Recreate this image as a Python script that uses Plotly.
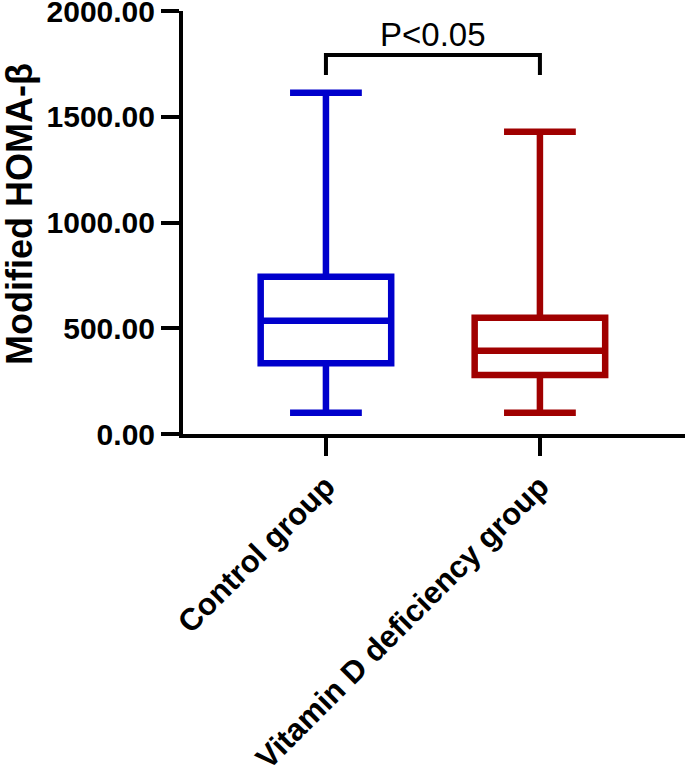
import plotly.graph_objects as go

# box summary values
groups = ["Control group", "Vitamin D deficiency group"]
q1 = [334, 279]
median = [536, 394]
q3 = [744, 550]
lower = [101, 101]
upper = [1614, 1429]
colors = ["#0000CC", "#A00000"]

y_ticks = [0, 500, 1000, 1500, 2000]
y_title = "Modified HOMA-β"

# significance bracket between the two groups
bracket_x = [groups[0], groups[0], groups[1], groups[1]]
bracket_y = [1697, 1792, 1792, 1697]
p_label = "P<0.05"
p_label_y = 1890

fig = go.Figure()

for i, g in enumerate(groups):
    fig.add_trace(go.Box(
        x=[g],
        q1=[q1[i]], median=[median[i]], q3=[q3[i]],
        lowerfence=[lower[i]], upperfence=[upper[i]],
        line=dict(color=colors[i], width=6.5),
        fillcolor="rgba(0,0,0,0)",
        width=0.61,
        whiskerwidth=0.55,
        hoverinfo="skip",
    ))

fig.add_trace(go.Scatter(
    x=bracket_x, y=bracket_y,
    mode="lines",
    line=dict(color="black", width=4),
    hoverinfo="skip",
))

fig.add_annotation(
    x=0.5, y=p_label_y, xref="x", yref="y",
    text=p_label, showarrow=False,
    font=dict(family="Liberation Sans, Arial", size=33, color="black"),
)

# y axis title as a rotated annotation so it can sit close to the edge
fig.add_annotation(
    x=-0.327, y=0.52, xref="paper", yref="paper",
    xanchor="center", yanchor="middle",
    text=y_title, textangle=-90, showarrow=False,
    font=dict(family="Liberation Sans, Arial", size=36, color="black", weight="bold"),
)

fig.update_layout(
    width=685, height=770,
    showlegend=False,
    plot_bgcolor="white",
    paper_bgcolor="white",
    margin=dict(l=183, r=0, t=11, b=336),
    font=dict(family="Liberation Sans, Arial", color="black"),
)

fig.update_xaxes(
    type="category",
    range=[-0.668, 1.678],
    automargin=False,
    showline=True, linecolor="black", linewidth=4,
    ticks="outside", ticklen=18, tickwidth=4, tickcolor="black",
    tickangle=-45,
    ticklabeloverflow="allow",
    tickfont=dict(family="Liberation Sans, Arial", size=31, weight="bold"),
    showgrid=False, zeroline=False,
)

fig.update_yaxes(
    range=[0, 2000],
    automargin=False,
    tickvals=y_ticks,
    tickformat=".2f",
    ticklabeloverflow="allow",
    showline=True, linecolor="black", linewidth=4,
    ticks="outside", ticklen=18, tickwidth=4, tickcolor="black",
    tickfont=dict(family="Liberation Sans, Arial", size=30, weight="bold"),
    showgrid=False, zeroline=False,
)

# drop the default 8px body margin so the figure fills the window
fig.write_html("out.html", config={"displayModeBar": False},
               post_script="document.body.style.margin='0';")
